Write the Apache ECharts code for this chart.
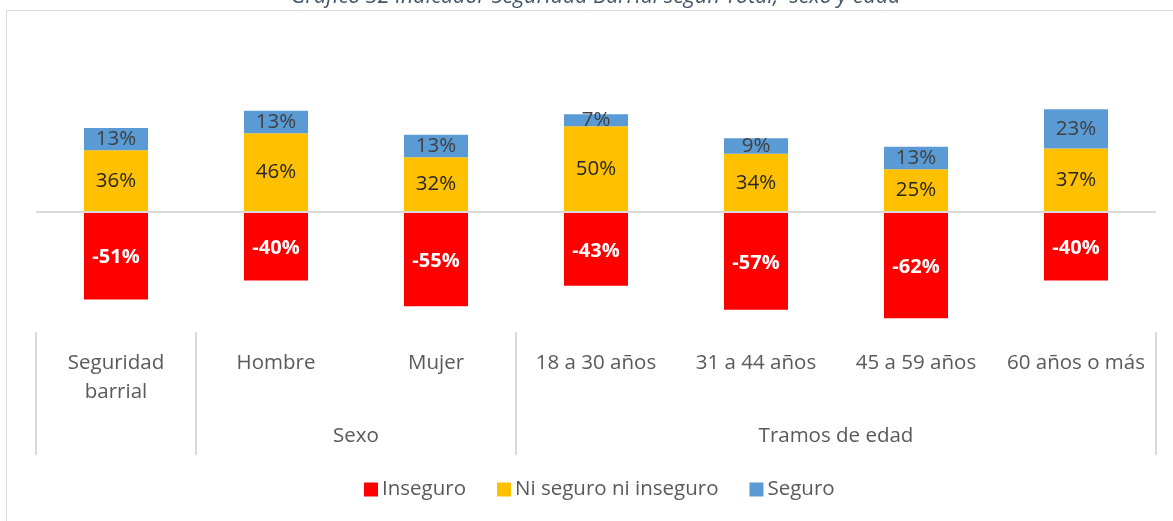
<!DOCTYPE html>
<html><head><meta charset="utf-8">
<script src="https://cdn.jsdelivr.net/npm/echarts@6/dist/echarts.min.js"></script>
<style>html,body{margin:0;padding:0;background:#fff}#c{width:1173px;height:521px}</style>
</head><body><div id="c"></div>
<script>
const categories = ['Seguridad\nbarrial','Hombre','Mujer','18 a 30 años','31 a 44 años','45 a 59 años','60 años o más'];
const groupLabels = ['Sexo','Tramos de edad'];
const groupCenters = [2,5];
const groupBounds = [0,1,3,7];
const inseguro = [-51,-40,-55,-43,-57,-62,-40];
const niSeguro = [36,46,32,50,34,25,37];
const seguro = [13,13,13,7,9,13,23];
const titleText = 'Gráfico 32 Indicador Seguridad Barrial según Total,  sexo y edad';

const FONT = 'Open Sans';
const chart = echarts.init(document.getElementById('c'));
chart.setOption({
  animation:false,
  backgroundColor:'#fff',
  textStyle:{fontFamily:FONT},
  title:{text:titleText,left:286,top:-19,textStyle:{fontFamily:FONT,fontStyle:'italic',fontWeight:'normal',fontSize:21.5,color:'#44546a'}},
  graphic:[{type:'rect',silent:true,z:-10,shape:{x:6.5,y:10.5,width:1300,height:700},style:{fill:'none',stroke:'#d9d9d9',lineWidth:1}}],
  legend:{bottom:16,left:359,icon:'rect',itemWidth:14,itemHeight:14,itemGap:31,
    textStyle:{fontFamily:FONT,fontSize:20.5,color:'#595959',padding:[0,0,0,-1]},
    data:['Inseguro','Ni seguro ni inseguro','Seguro']},
  grid:{left:36,right:17,top:92,height:240,containLabel:false},
  xAxis:[
    {type:'category',data:categories,position:'bottom',
     axisLine:{show:false},axisTick:{show:false},
     axisLabel:{fontFamily:FONT,fontSize:20.5,color:'#595959',margin:17,lineHeight:29,interval:0}},
    {type:'value',min:0,max:7,position:'bottom',splitLine:{show:false},
     axisLine:{show:false},
     axisTick:{show:true,customValues:groupBounds,length:123,inside:false,lineStyle:{color:'#d9d9d9',width:2}},
     axisLabel:{show:true,customValues:groupCenters,margin:94,fontFamily:FONT,fontSize:20.5,color:'#595959',
       formatter:function(v){const i=groupCenters.indexOf(v);return i>=0?groupLabels[i]:'';}}}
  ],
  yAxis:{type:'value',min:-70,max:70,show:false,splitLine:{show:false}},
  series:[
    {name:'Inseguro',type:'bar',stack:'a',data:inseguro,barWidth:64,
     itemStyle:{color:'#ff0000'},
     label:{show:true,position:'inside',formatter:'{c}%',color:'#fff',fontWeight:'bold',fontSize:20,fontFamily:FONT,offset:[0,2]},
     markLine:{silent:true,symbol:'none',label:{show:false},lineStyle:{color:'#d9d9d9',width:2,type:'solid'},data:[{yAxis:0}]}},
    {name:'Ni seguro ni inseguro',type:'bar',stack:'a',data:niSeguro,barWidth:64,
     itemStyle:{color:'#ffc000'},
     label:{show:true,position:'inside',formatter:'{c}%',color:'#262626',fontSize:20.5,fontFamily:FONT}},
    {name:'Seguro',type:'bar',stack:'a',data:seguro,barWidth:64,
     itemStyle:{color:'#5b9bd5'},
     label:{show:true,position:'inside',formatter:'{c}%',color:'#404040',fontSize:20.5,fontFamily:FONT}}
  ]
});
</script></body></html>
